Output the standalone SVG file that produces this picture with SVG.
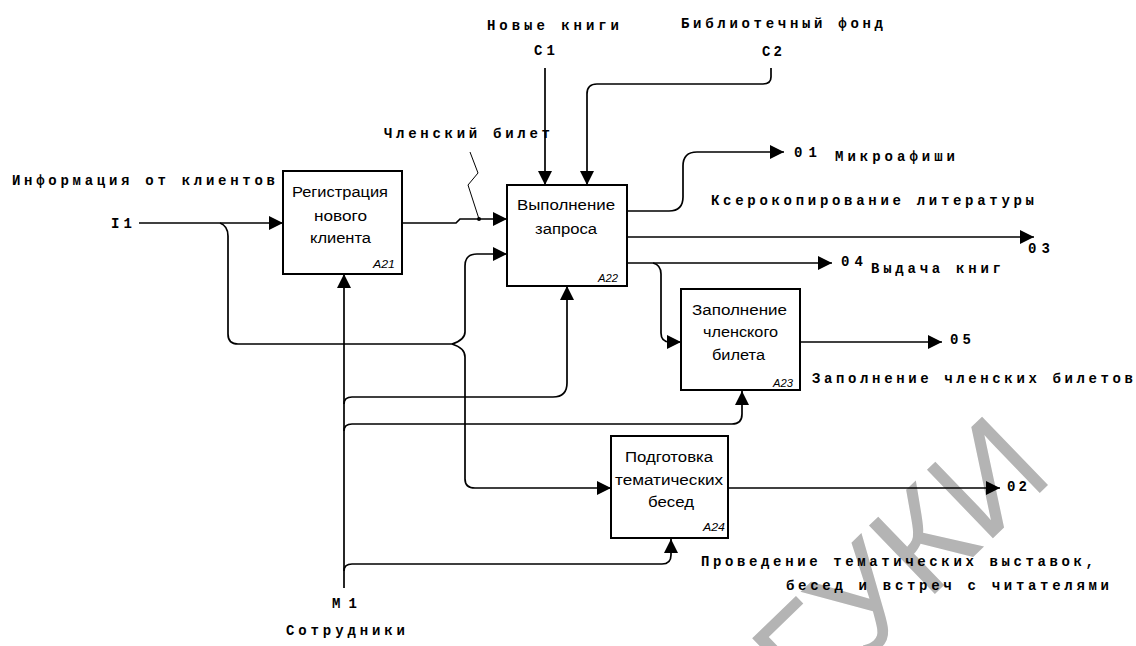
<svg xmlns="http://www.w3.org/2000/svg" width="1136" height="646" viewBox="0 0 1136 646">
<style>
.box{fill:#fff;stroke:#000;stroke-width:2}
.ln{fill:none;stroke:#000;stroke-width:1.7}
.thin{fill:none;stroke:#000;stroke-width:1}
.lbl{font-family:"Liberation Mono","DejaVu Sans Mono",monospace;font-size:14px;font-weight:bold;fill:#000}
.bt{font-family:"Liberation Sans",Arial,sans-serif;font-size:14px;fill:#000}
.id{font-family:"Liberation Sans",Arial,sans-serif;font-size:11px;font-style:italic;fill:#000}
.wm{font-family:"Liberation Sans",Arial,sans-serif;font-size:138px;fill:#b4b4b4}
</style>
<defs>
<marker id="ah" markerUnits="userSpaceOnUse" markerWidth="14" markerHeight="14" refX="14" refY="7" orient="auto">
<path d="M0,0 L14,7 L0,14 z" fill="#000"/>
</marker>
</defs>
<rect width="1136" height="646" fill="#fff"/>
<text class="wm" text-anchor="end" transform="translate(1056,477) rotate(-44)">БГУКИ</text>

<g id="connectors">
<path class="ln" d="M139,223 H283" marker-end="url(#ah)"/>
<path class="ln" d="M220,223 Q228,226 228,236 V334 Q228,344 238,344 H452"/>
<path class="ln" d="M452,344 Q465,340 465,332 V266 Q465,254 477,254 H507" marker-end="url(#ah)"/>
<path class="ln" d="M452,344 Q465,348 465,357 V479 Q465,488 475,488 H611" marker-end="url(#ah)"/>
<path class="ln" d="M402,223 H456 L460,219 H507" marker-end="url(#ah)"/>
<circle cx="479" cy="219" r="2" fill="#000"/>
<path class="thin" d="M470,152 L478,173 L468,185 L479,219"/>
<path class="ln" d="M545,68 V185" marker-end="url(#ah)"/>
<path class="ln" d="M771,68 V77 Q771,84 763,84 H597 Q587,84 587,94 V185" marker-end="url(#ah)"/>
<path class="ln" d="M627,211 H669 Q683,211 683,197 V166 Q683,152 697,152 H784" marker-end="url(#ah)"/>
<path class="ln" d="M627,237 H1034" marker-end="url(#ah)"/>
<path class="ln" d="M627,263 H832" marker-end="url(#ah)"/>
<path class="ln" d="M653,263 Q661,265 661,274 V333 Q661,342 670,342 H681" marker-end="url(#ah)"/>
<path class="ln" d="M800,342 H942" marker-end="url(#ah)"/>
<path class="ln" d="M728,488 H1000" marker-end="url(#ah)"/>
<path class="ln" d="M344,588 V274" marker-end="url(#ah)"/>
<path class="ln" d="M344,404 Q344,397 352,397 H553 Q567,397 567,383 V286" marker-end="url(#ah)"/>
<path class="ln" d="M344,431 Q344,424 352,424 H732 Q742,424 742,414 V391" marker-end="url(#ah)"/>
<path class="ln" d="M344,571 Q344,564 352,564 H662 Q671,564 671,555 V539" marker-end="url(#ah)"/>
</g>

<g id="A21">
<rect class="box" x="283" y="171" width="119" height="103"/>
<text class="bt" x="292" y="197" textLength="96" lengthAdjust="spacingAndGlyphs">Регистрация</text>
<text class="bt" x="314" y="221" textLength="53" lengthAdjust="spacingAndGlyphs">нового</text>
<text class="bt" x="310" y="243" textLength="61" lengthAdjust="spacingAndGlyphs">клиента</text>
<text class="id" x="373" y="268" textLength="22" lengthAdjust="spacingAndGlyphs">A21</text>
</g>
<g id="A22">
<rect class="box" x="507" y="185" width="120" height="101"/>
<text class="bt" x="517" y="210" textLength="98" lengthAdjust="spacingAndGlyphs">Выполнение</text>
<text class="bt" x="535" y="234" textLength="62" lengthAdjust="spacingAndGlyphs">запроса</text>
<text class="id" x="598" y="282" textLength="20" lengthAdjust="spacingAndGlyphs">A22</text>
</g>
<g id="A23">
<rect class="box" x="681" y="289" width="119" height="101"/>
<text class="bt" x="692" y="315" textLength="95" lengthAdjust="spacingAndGlyphs">Заполнение</text>
<text class="bt" x="703" y="337" textLength="75" lengthAdjust="spacingAndGlyphs">членского</text>
<text class="bt" x="712" y="360" textLength="53" lengthAdjust="spacingAndGlyphs">билета</text>
<text class="id" x="773" y="387" textLength="20" lengthAdjust="spacingAndGlyphs">A23</text>
</g>
<g id="A24">
<rect class="box" x="611" y="436" width="117" height="102"/>
<text class="bt" x="625" y="462" textLength="88" lengthAdjust="spacingAndGlyphs">Подготовка</text>
<text class="bt" x="615" y="485" textLength="108" lengthAdjust="spacingAndGlyphs">тематических</text>
<text class="bt" x="648" y="507" textLength="46" lengthAdjust="spacingAndGlyphs">бесед</text>
<text class="id" x="703" y="531" textLength="22" lengthAdjust="spacingAndGlyphs">A24</text>
</g>

<g id="labels">
<text class="lbl" x="487" y="30" textLength="132" lengthAdjust="spacing">Новые книги</text>
<text class="lbl" x="534" y="55" textLength="21" lengthAdjust="spacing">C1</text>
<text class="lbl" x="681" y="28" textLength="202" lengthAdjust="spacing">Библиотечный фонд</text>
<text class="lbl" x="762" y="56" textLength="20" lengthAdjust="spacing">C2</text>
<text class="lbl" x="384" y="138" textLength="166" lengthAdjust="spacing">Членский билет</text>
<text class="lbl" x="12" y="185" textLength="263" lengthAdjust="spacing">Информация от клиентов</text>
<text class="lbl" x="111" y="228" textLength="21" lengthAdjust="spacing">I1</text>
<text class="lbl" x="794" y="157" textLength="23" lengthAdjust="spacing">01</text>
<text class="lbl" x="835" y="161" textLength="120" lengthAdjust="spacing">Микроафиши</text>
<text class="lbl" x="711" y="205" textLength="323" lengthAdjust="spacing">Ксерокопирование литературы</text>
<text class="lbl" x="1028" y="253" textLength="22" lengthAdjust="spacing">03</text>
<text class="lbl" x="841" y="266" textLength="22" lengthAdjust="spacing">04</text>
<text class="lbl" x="871" y="273" textLength="130" lengthAdjust="spacing">Выдача книг</text>
<text class="lbl" x="950" y="344" textLength="21" lengthAdjust="spacing">05</text>
<text class="lbl" x="812" y="383" textLength="321" lengthAdjust="spacing">Заполнение членских билетов</text>
<text class="lbl" x="1007" y="491" textLength="20" lengthAdjust="spacing">02</text>
<text class="lbl" x="701" y="566" textLength="393" lengthAdjust="spacing">Проведение тематических выставок,</text>
<text class="lbl" x="786" y="590" textLength="323" lengthAdjust="spacing">бесед и встреч с читателями</text>
<text class="lbl" x="332" y="608" textLength="25" lengthAdjust="spacing">M1</text>
<text class="lbl" x="286" y="635" textLength="119" lengthAdjust="spacing">Сотрудники</text>
</g>
</svg>
